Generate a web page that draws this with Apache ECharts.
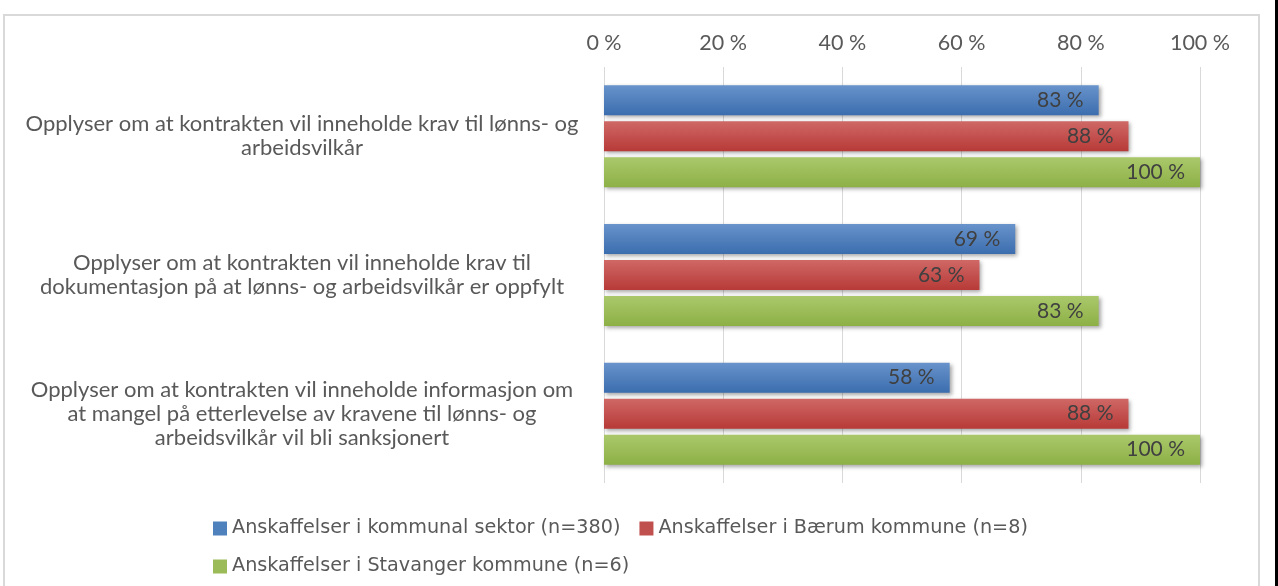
<!DOCTYPE html>
<html>
<head>
<meta charset="utf-8">
<script src="https://cdn.jsdelivr.net/npm/echarts@6/dist/echarts.min.js"></script>
<style>
  html, body { margin: 0; padding: 0; background: #fff; }
  #main { width: 1278px; height: 586px; }
</style>
</head>
<body>
<div id="main"></div>
<script>
    // data
    var categories = [
        'Opplyser om at kontrakten vil inneholde krav til lønns- og\narbeidsvilkår',
        'Opplyser om at kontrakten vil inneholde krav til\ndokumentasjon på at lønns- og arbeidsvilkår er oppfylt',
        'Opplyser om at kontrakten vil inneholde informasjon om\nat mangel på etterlevelse av kravene til lønns- og\narbeidsvilkår vil bli sanksjonert'
    ];
    var seriesNames = [
        'Anskaffelser i kommunal sektor (n=380)',
        'Anskaffelser i Bærum kommune (n=8)',
        'Anskaffelser i Stavanger kommune (n=6)'
    ];
    var kommunal = [83, 69, 58];
    var baerum = [88, 63, 88];
    var stavanger = [100, 83, 100];
    var xTicks = [0, 20, 40, 60, 80, 100];

    var labelFont = 'Lato, "Noto Sans", sans-serif';
    var solid = ['#4F81BD', '#C0504D', '#9BBB59'];

    function grad(top, bottom) {
        return new echarts.graphic.LinearGradient(0, 0, 0, 1, [
            { offset: 0, color: top },
            { offset: 1, color: bottom }
        ]);
    }

    function makeSeries(name, data, top, bottom) {
        return {
            name: name,
            type: 'bar',
            data: data,
            barWidth: 30,
            barGap: '20%',
            itemStyle: {
                color: grad(top, bottom),
                shadowColor: 'rgba(0,0,0,0.35)',
                shadowBlur: 4,
                shadowOffsetX: 2,
                shadowOffsetY: 2
            },
            label: {
                show: true,
                position: 'insideRight',
                distance: 15,
                color: '#404040',
                fontFamily: labelFont,
                fontSize: 21,
                formatter: function (p) { return p.value + ' %'; }
            }
        };
    }

    var myChart = echarts.init(document.getElementById('main'));

    var option = {
        backgroundColor: '#fff',
        animation: false,
        color: solid,
        graphic: [
            // frame round the chart
            { type: 'rect', shape: { x: 4, y: 15, width: 1255, height: 600 },
              style: { fill: 'none', stroke: '#d9d9d9', lineWidth: 2 }, silent: true },
            { type: 'rect', shape: { x: 1275, y: 0, width: 3, height: 586 },
              style: { fill: '#000' }, silent: true }
        ],
        grid: {
            left: 604,
            right: 78,
            top: 67,
            bottom: 103
        },
        legend: {
            left: 208,
            top: 514,
            width: 900,
            itemWidth: 14,
            itemHeight: 14,
            itemGap: 19,
            icon: 'rect',
            textStyle: {
                color: '#595959',
                fontFamily: '"DejaVu Sans", Verdana, sans-serif',
                fontSize: 19.2,
                lineHeight: 17
            },
            data: seriesNames.map(function (n, i) {
                return { name: n, itemStyle: { color: solid[i] } };
            })
        },
        xAxis: {
            type: 'value',
            position: 'top',
            min: 0,
            max: 100,
            interval: 20,
            axisLine: { show: false },
            axisTick: { show: false },
            splitLine: { lineStyle: { color: '#d9d9d9', width: 1 } },
            axisLabel: {
                color: '#595959',
                fontFamily: labelFont,
                fontSize: 21.5,
                margin: 13,
                formatter: function (v) { return xTicks.indexOf(v) >= 0 ? v + ' %' : ''; }
            }
        },
        yAxis: {
            type: 'category',
            inverse: true,
            data: categories,
            axisLine: { show: false },
            axisTick: { show: false },
            axisLabel: {
                color: '#595959',
                fontFamily: labelFont,
                fontSize: 22,
                lineHeight: 24,
                align: 'center',
                margin: 302
            }
        },
        series: [
            makeSeries(seriesNames[0], kommunal, '#6893CB', '#3B6DAE'),
            makeSeries(seriesNames[1], baerum, '#CF6866', '#B73A37'),
            makeSeries(seriesNames[2], stavanger, '#AAC86B', '#8DB046')
        ]
    };

    myChart.setOption(option);
</script>
</body>
</html>
